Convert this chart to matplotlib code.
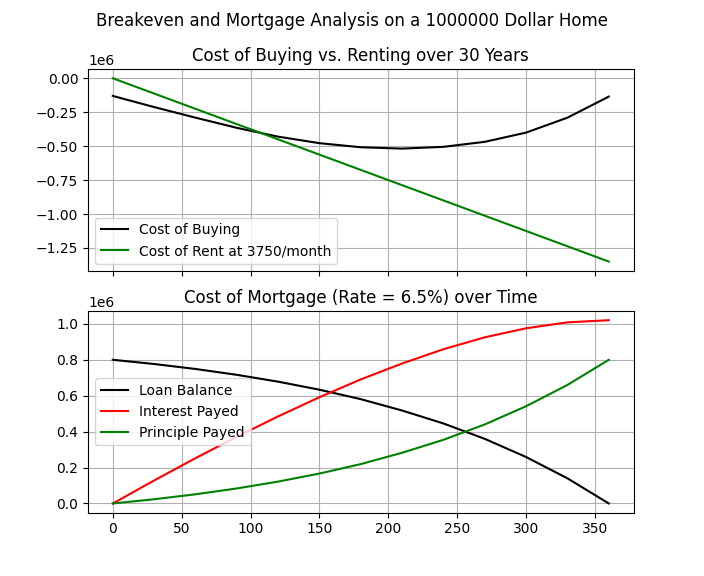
import numpy as np
import matplotlib.pyplot as plt

# months sampled every 30
months = [0, 30, 60, 90, 120, 150, 180, 210, 240, 270, 300, 330, 360]

# top panel
cost_buying = [-130000, -212000, -290000, -365000, -430000, -478000, -508000,
               -518000, -505000, -468000, -400000, -290000, -135000]
cost_rent = [0, -112500, -225000, -337500, -450000, -562500, -675000,
             -787500, -900000, -1012500, -1125000, -1237500, -1350000]

# bottom panel
loan_balance = [800000, 776500, 748900, 716300, 678200, 633400, 580700,
                517500, 445400, 359800, 258500, 139900, 0]
interest_payed = [0, 128200, 252300, 371400, 485000, 591800, 690900,
                  779400, 859000, 925100, 975500, 1008500, 1020400]
principle_payed = [0, 23500, 51100, 83700, 121800, 166600, 219300,
                   282500, 354600, 440200, 541500, 660100, 800000]

fig, (ax1, ax2) = plt.subplots(2, 1, figsize=(7.04, 5.76), dpi=100, sharex=True)
fig.suptitle("Breakeven and Mortgage Analysis on a 1000000 Dollar Home")

ax1.plot(months, cost_buying, color="black", label="Cost of Buying")
ax1.plot(months, cost_rent, color="green", label="Cost of Rent at 3750/month")
ax1.set_title("Cost of Buying vs. Renting over 30 Years")
ax1.grid(True)
ax1.legend(loc="lower left")

ax2.plot(months, loan_balance, color="black", label="Loan Balance")
ax2.plot(months, interest_payed, color="red", label="Interest Payed")
ax2.plot(months, principle_payed, color="green", label="Principle Payed")
ax2.set_title("Cost of Mortgage (Rate = 6.5%) over Time")
ax2.grid(True)
ax2.legend(loc="center left")

plt.savefig("out.png", dpi=100)
